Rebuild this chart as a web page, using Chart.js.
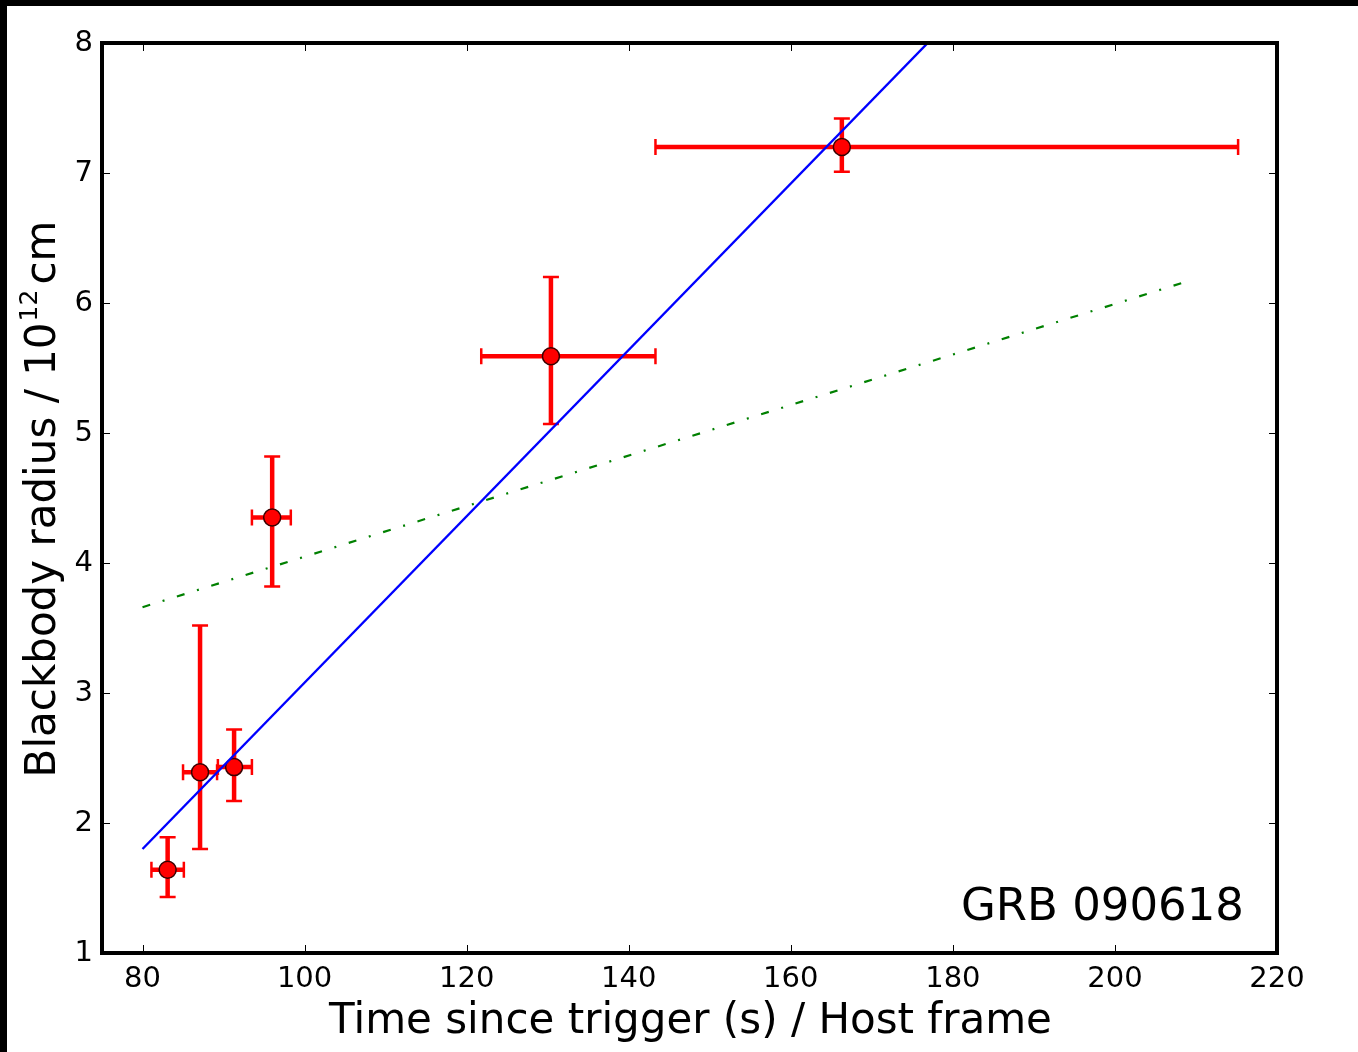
<!DOCTYPE html>
<html>
<head>
<meta charset="utf-8">
<script src="https://cdn.jsdelivr.net/npm/chart.js@4.4.1/dist/chart.umd.min.js"></script>
<style>
  html, body { margin: 0; padding: 0; background: #fff; }
  #wrap { position: absolute; left: 0; top: 0; width: 1358px; height: 1052px; }
</style>
</head>
<body>
<div id="wrap"><canvas id="c" width="1358" height="1052"></canvas></div>
<script>
// ---- data ----
const xTickValues = [80, 100, 120, 140, 160, 180, 200, 220];
const yTickValues = [1, 2, 3, 4, 5, 6, 7, 8];

const timeValues   = [83.1, 87.1, 91.3, 96.0, 130.4, 166.3];
const radiusValues = [1.64, 2.39, 2.43, 4.35, 5.59, 7.20];
const timeLow      = [81.1, 85.0, 89.3, 93.5, 121.8, 143.3];
const timeHigh     = [85.1, 89.2, 93.5, 98.3, 143.3, 215.2];
const radiusLow    = [1.43, 1.80, 2.17, 3.82, 5.07, 7.01];
const radiusHigh   = [1.89, 3.52, 2.72, 4.82, 6.20, 7.42];

const fitLineTime     = [80, 176.9];
const fitLineRadius   = [1.80, 8.00];
const modelLineTime   = [80, 208.6];
const modelLineRadius = [3.66, 6.16];

const xTitle = 'Time since trigger (s) / Host frame';
const yTitleMain = 'Blackbody radius / 10';
const yTitleSup = '12';
const yTitleEnd = 'cm';
const annotationText = 'GRB 090618';

const FONT = '"DejaVu Sans", "Liberation Sans", sans-serif';

const toPoints = (xs, ys) => xs.map((x, i) => ({ x: x, y: ys[i] }));

const decorPlugin = {
  id: 'decor',
  beforeDraw(chart) {
    const ctx = chart.ctx;
    ctx.save();
    ctx.fillStyle = '#ffffff';
    ctx.fillRect(0, 0, chart.width, chart.height);
    ctx.fillStyle = '#000000';
    ctx.fillRect(0, 0, chart.width, 6);
    ctx.fillRect(0, 0, 7, chart.height);
    ctx.restore();
  },
  beforeDatasetsDraw(chart) {
    const ctx = chart.ctx;
    const xs = chart.scales.x, ys = chart.scales.y;
    ctx.save();
    ctx.strokeStyle = '#ff0000';
    ctx.lineCap = 'butt';
    for (let i = 0; i < timeValues.length; i++) {
      const px = xs.getPixelForValue(timeValues[i]);
      const py = ys.getPixelForValue(radiusValues[i]);
      const xl = xs.getPixelForValue(timeLow[i]);
      const xh = xs.getPixelForValue(timeHigh[i]);
      const yl = ys.getPixelForValue(radiusLow[i]);
      const yh = ys.getPixelForValue(radiusHigh[i]);
      ctx.lineWidth = 4.5;
      ctx.beginPath();
      ctx.moveTo(xl, py); ctx.lineTo(xh, py);
      ctx.moveTo(px, yl); ctx.lineTo(px, yh);
      ctx.stroke();
      ctx.lineWidth = 2.5;
      const c = 8;
      ctx.beginPath();
      ctx.moveTo(xl, py - c); ctx.lineTo(xl, py + c);
      ctx.moveTo(xh, py - c); ctx.lineTo(xh, py + c);
      ctx.moveTo(px - c, yl); ctx.lineTo(px + c, yl);
      ctx.moveTo(px - c, yh); ctx.lineTo(px + c, yh);
      ctx.stroke();
    }
    ctx.restore();
  },
  afterDraw(chart) {
    const ctx = chart.ctx;
    const a = chart.chartArea;
    const xs = chart.scales.x, ys = chart.scales.y;
    ctx.save();
    // ticks (inward, all four sides)
    ctx.strokeStyle = '#000';
    ctx.lineWidth = 1;
    const tl = 8;
    ctx.beginPath();
    xTickValues.forEach(v => {
      const p = Math.round(xs.getPixelForValue(v)) + 0.5;
      ctx.moveTo(p, a.bottom); ctx.lineTo(p, a.bottom - tl);
      ctx.moveTo(p, a.top); ctx.lineTo(p, a.top + tl);
    });
    yTickValues.forEach(v => {
      const p = Math.round(ys.getPixelForValue(v)) + 0.5;
      ctx.moveTo(a.left, p); ctx.lineTo(a.left + tl, p);
      ctx.moveTo(a.right, p); ctx.lineTo(a.right - tl, p);
    });
    ctx.stroke();
    // frame
    ctx.lineWidth = 4;
    ctx.strokeRect(a.left, a.top, a.right - a.left, a.bottom - a.top);

    // x title
    ctx.fillStyle = '#000';
    ctx.font = '42px ' + FONT;
    ctx.textAlign = 'center';
    ctx.textBaseline = 'alphabetic';
    ctx.fillText(xTitle, (a.left + a.right) / 2 + 1, 1033);

    // y title with superscript
    ctx.save();
    ctx.translate(55, 499);
    ctx.rotate(-Math.PI / 2);
    ctx.font = '42px ' + FONT;
    const w1 = ctx.measureText(yTitleMain).width;
    const w3 = ctx.measureText(yTitleEnd).width;
    ctx.font = '25px ' + FONT;
    const w2 = ctx.measureText(yTitleSup).width;
    const gap = 6;
    const total = w1 + w2 + gap + w3;
    let x0 = -total / 2;
    ctx.textAlign = 'left';
    ctx.font = '42px ' + FONT;
    ctx.fillText(yTitleMain, x0, 0);
    ctx.font = '25px ' + FONT;
    ctx.fillText(yTitleSup, x0 + w1 + 1, -18);
    ctx.font = '42px ' + FONT;
    ctx.fillText(yTitleEnd, x0 + w1 + w2 + gap, 0);
    ctx.restore();

    // annotation
    ctx.font = '45px ' + FONT;
    ctx.textAlign = 'right';
    ctx.fillText(annotationText, 1244, 920);
    ctx.restore();
  }
};

new Chart(document.getElementById('c'), {
  type: 'scatter',
  data: {
    datasets: [
      {
        type: 'line',
        label: 'fit',
        data: toPoints(fitLineTime, fitLineRadius),
        borderColor: '#0000ff',
        borderWidth: 2.4,
        pointRadius: 0,
        fill: false,
        tension: 0
      },
      {
        type: 'line',
        label: 'model',
        data: toPoints(modelLineTime, modelLineRadius),
        borderColor: '#008000',
        borderWidth: 2.2,
        borderDash: [8, 13, 2, 13],
        pointRadius: 0,
        fill: false,
        tension: 0
      },
      {
        type: 'scatter',
        label: 'data',
        data: toPoints(timeValues, radiusValues),
        backgroundColor: '#ff0000',
        borderColor: '#3a0000',
        borderWidth: 1.5,
        pointRadius: 8.5,
        pointHoverRadius: 8.5
      }
    ]
  },
  options: {
    responsive: false,
    animation: false,
    events: [],
    layout: { padding: { top: 43, right: 81, left: 0, bottom: 0 } },
    plugins: { legend: { display: false }, tooltip: { enabled: false } },
    scales: {
      x: {
        type: 'linear',
        position: 'bottom',
        min: 75,
        max: 220,
        grid: { display: false, drawTicks: false },
        border: { display: false },
        afterBuildTicks: s => { s.ticks = xTickValues.map(v => ({ value: v })); },
        afterFit: s => { s.height = 99; },
        ticks: {
          color: '#000',
          font: { family: FONT, size: 29 },
          padding: 9,
          maxRotation: 0,
          autoSkip: false,
          callback: v => String(v)
        }
      },
      y: {
        type: 'linear',
        position: 'left',
        min: 1,
        max: 8,
        grid: { display: false, drawTicks: false },
        border: { display: false },
        afterBuildTicks: s => { s.ticks = yTickValues.map(v => ({ value: v })); },
        afterFit: s => { s.width = 102; },
        ticks: {
          color: '#000',
          font: { family: FONT, size: 29 },
          padding: 9,
          autoSkip: false,
          callback: v => String(v)
        }
      }
    }
  },
  plugins: [decorPlugin]
});
</script>
</body>
</html>
